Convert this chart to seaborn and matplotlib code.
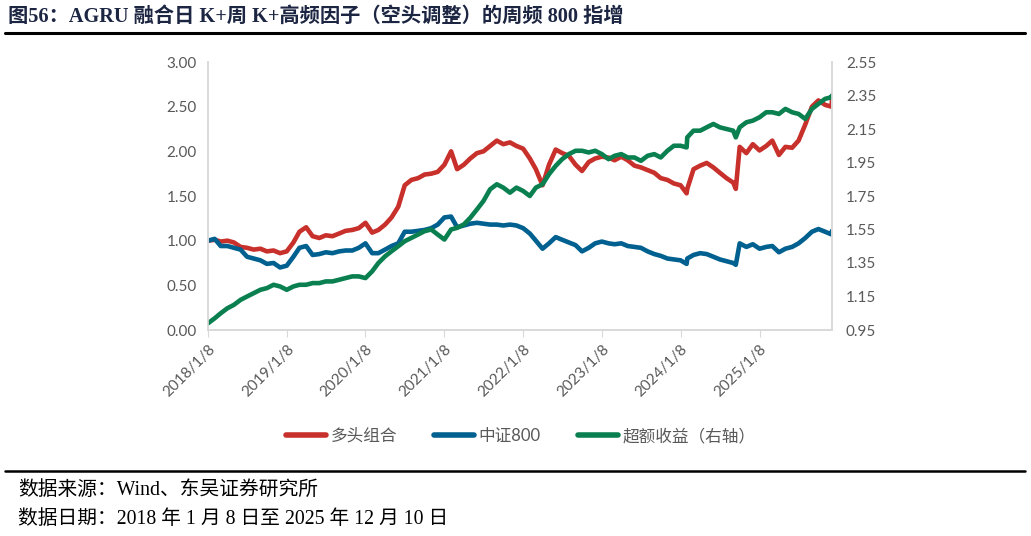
import matplotlib
matplotlib.use('Agg')
import matplotlib.pyplot as plt
from matplotlib.lines import Line2D
import seaborn as sns
import pandas as pd
import numpy as np

# monthly readings (8th of each month, 2018-01 .. 2025-12)
long_vals = [1.00, 1.01, 0.99, 1.00, 0.98, 0.93, 0.92, 0.90, 0.91, 0.88, 0.89, 0.86,
             0.88, 0.98, 1.10, 1.15, 1.05, 1.03, 1.06, 1.05, 1.08, 1.11, 1.12, 1.14,
             1.20, 1.09, 1.12, 1.18, 1.26, 1.38, 1.62, 1.68, 1.70, 1.74, 1.75, 1.77,
             1.85, 2.00, 1.80, 1.85, 1.92, 1.98, 2.00, 2.06, 2.12, 2.08, 2.10, 2.06,
             2.03, 1.92, 1.80, 1.62, 1.85, 2.02, 1.98, 1.95, 1.85, 1.78, 1.88, 1.92,
             1.94, 1.93, 1.90, 1.94, 1.90, 1.84, 1.82, 1.79, 1.76, 1.70, 1.68, 1.64,
             1.62, 1.58, 1.80, 1.84, 1.87, 1.82, 1.76, 1.70, 1.65, 2.05, 1.98, 2.08,
             2.01, 2.06, 2.12, 1.96, 2.05, 2.04, 2.12, 2.30, 2.50, 2.57, 2.52, 2.50]
csi800_vals = [1.00, 1.02, 0.94, 0.94, 0.92, 0.90, 0.82, 0.80, 0.78, 0.74, 0.75, 0.70,
               0.72, 0.82, 0.92, 0.94, 0.84, 0.85, 0.87, 0.86, 0.88, 0.89, 0.89, 0.92,
               0.97, 0.86, 0.86, 0.90, 0.94, 0.97, 1.10, 1.10, 1.11, 1.12, 1.14, 1.18,
               1.26, 1.27, 1.15, 1.17, 1.19, 1.20, 1.19, 1.18, 1.18, 1.17, 1.18, 1.17,
               1.14, 1.08, 1.00, 0.91, 0.97, 1.04, 1.01, 0.98, 0.95, 0.88, 0.92, 0.97,
               0.99, 0.97, 0.96, 0.97, 0.94, 0.93, 0.92, 0.88, 0.85, 0.83, 0.80, 0.79,
               0.78, 0.80, 0.84, 0.86, 0.85, 0.82, 0.79, 0.77, 0.75, 0.97, 0.93, 0.96,
               0.91, 0.93, 0.94, 0.87, 0.91, 0.93, 0.97, 1.03, 1.10, 1.13, 1.10, 1.07]
excess_vals = [0.99, 1.02, 1.05, 1.08, 1.10, 1.13, 1.15, 1.17, 1.19, 1.20, 1.22, 1.21,
               1.19, 1.21, 1.22, 1.22, 1.23, 1.23, 1.24, 1.24, 1.25, 1.26, 1.27, 1.27,
               1.26, 1.30, 1.35, 1.39, 1.42, 1.45, 1.48, 1.50, 1.52, 1.54, 1.55, 1.52,
               1.49, 1.55, 1.56, 1.58, 1.62, 1.67, 1.72, 1.79, 1.82, 1.80, 1.77, 1.80,
               1.78, 1.75, 1.80, 1.82, 1.88, 1.93, 1.97, 2.00, 2.02, 2.02, 2.01, 2.02,
               2.00, 1.97, 1.99, 2.00, 1.98, 1.98, 1.96, 1.99, 2.00, 1.98, 2.02, 2.05,
               2.05, 2.10, 2.14, 2.14, 2.16, 2.18, 2.16, 2.15, 2.14, 2.16, 2.19, 2.20,
               2.22, 2.25, 2.25, 2.24, 2.27, 2.25, 2.24, 2.21, 2.27, 2.30, 2.33, 2.34]

# extra readings at sharp moves and the last day
extra_dates = ['2024-02-05', '2024-09-20', '2025-12-10']
long_extra = [1.53, 1.58, 2.58]
csi800_extra = [0.74, 0.73, 1.11]
excess_extra = [2.04, 2.10, 2.35]

tick_labels = ['2018/1/8', '2019/1/8', '2020/1/8', '2021/1/8',
               '2022/1/8', '2023/1/8', '2024/1/8', '2025/1/8']

start = pd.Timestamp('2018-01-08')
month_dates = [start + pd.DateOffset(months=k) for k in range(len(long_vals))]
dates = month_dates + list(pd.to_datetime(extra_dates))

df = pd.DataFrame({
    'date': dates,
    '多头组合': long_vals + long_extra,
    '中证800': csi800_vals + csi800_extra,
    '超额收益（右轴）': excess_vals + excess_extra,
}).sort_values('date')

red, blue, green = '#C8302B', '#00608F', '#0A8050'
grey = '#595959'
num_font = ['Lato', 'Noto Sans CJK SC']
serif_cjk = ['Liberation Serif', 'Noto Sans CJK SC']

sns.set_style('white')
plt.rcParams['font.family'] = num_font

fig = plt.figure(figsize=(10.31, 5.36), dpi=100)
ax = fig.add_axes([208 / 1031, 1 - 330 / 536, 624 / 1031, 268 / 536])
ax2 = ax.twinx()

left = df.melt(id_vars='date', value_vars=['多头组合', '中证800'], var_name='s', value_name='v')
sns.lineplot(data=left, x='date', y='v', hue='s', palette=[red, blue], lw=3.3,
             ax=ax, legend=False)
sns.lineplot(data=df, x='date', y='超额收益（右轴）', color=green, lw=3.3, ax=ax2)

ax.set_xlim(df['date'].min(), df['date'].max())
ax.set_ylim(0, 3)
ax.set_yticks(np.arange(0, 3.01, 0.5))
ax.set_yticklabels(['%.2f' % v for v in np.arange(0, 3.01, 0.5)])
ax2.set_ylim(0.95, 2.55)
r_ticks = np.arange(0.95, 2.56, 0.2)
ax2.set_yticks(r_ticks)
ax2.set_yticklabels(['%.2f' % v for v in r_ticks])

tick_dates = pd.to_datetime(tick_labels, format='%Y/%m/%d')
ax.set_xticks(tick_dates)
ax.set_xticklabels(tick_labels, rotation=45, ha='right', rotation_mode='anchor')

for a in (ax, ax2):
    a.set_xlabel('')
    a.set_ylabel('')
    for sp in a.spines.values():
        sp.set_color('#D9D9D9')
        sp.set_linewidth(1.2)
    a.spines['top'].set_visible(False)
    a.tick_params(axis='y', length=0, labelsize=11, labelcolor=grey, pad=8)
ax.tick_params(axis='x', length=5, color='#D9D9D9', labelsize=11, labelcolor=grey, pad=4,
               direction='out', bottom=True)
ax2.tick_params(axis='y', pad=10)
ax.grid(False)
ax2.grid(False)

handles = [Line2D([], [], color=c, lw=4, solid_capstyle='round') for c in (red, blue, green)]
fig.legend(handles, ['多头组合', '中证800', '超额收益（右轴）'], loc='center',
           bbox_to_anchor=(0.505, 1 - 436 / 536), ncol=3, frameon=False,
           handlelength=2.4, handletextpad=0.3, columnspacing=2.2,
           prop={'family': num_font, 'size': 12}, labelcolor=grey)

fig.text(8 / 1031, 1 - 17 / 536, '图56：AGRU 融合日 K+周 K+高频因子（空头调整）的周频 800 指增',
         fontsize=14.6, fontweight='bold', family=serif_cjk, color='#1C2541', va='center')
fig.add_artist(Line2D([5 / 1031, 1025 / 1031], [1 - 33 / 536] * 2, color='black', lw=2.2))
fig.add_artist(Line2D([5 / 1031, 1025 / 1031], [1 - 471 / 536] * 2, color='black', lw=1.8))
fig.text(18 / 1031, 1 - 490 / 536, '数据来源：Wind、东吴证券研究所', fontsize=14.2,
         family=serif_cjk, color='black', va='center')
fig.text(18 / 1031, 1 - 520 / 536, '数据日期：2018 年 1 月 8 日至 2025 年 12 月 10 日', fontsize=14.2,
         family=serif_cjk, color='black', va='center')

fig.savefig('out.png', dpi=100)
